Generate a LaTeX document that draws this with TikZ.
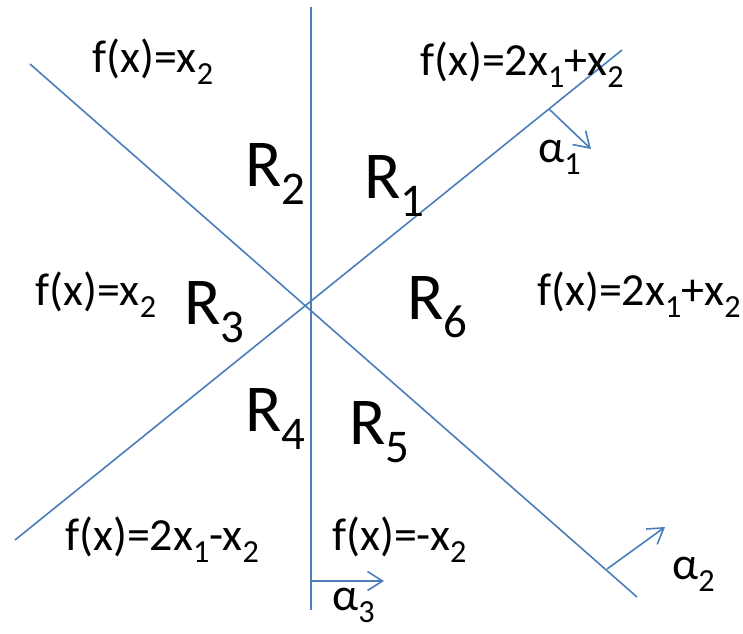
\documentclass[tikz,border=0pt]{standalone}
\usepackage{fontspec}
\setmainfont{Carlito}
\usepackage{graphicx}
\usetikzlibrary{arrows.meta}
\definecolor{lineblue}{RGB}{74,126,187}
\newcommand{\lowidx}[1]{\raisebox{-.27em}{\scalebox{.7}{#1}}}

\begin{document}
\begin{tikzpicture}[x=1pt, y=-1pt, >={Straight Barb[length=15pt,width=19pt]},
  sep/.style={draw=lineblue, line width=1.6pt},
  axis/.style={draw=lineblue, line width=2.2pt},
  dir/.style={draw=lineblue, line width=1.6pt, ->},
  fn/.style={anchor=base west, inner sep=0pt, font=\fontsize{46}{50}\selectfont},
  reg/.style={anchor=base west, inner sep=0pt, font=\fontsize{67}{70}\selectfont}]
\useasboundingbox (0,0) rectangle (743,633);
% separating lines
\coordinate (vtop) at (311,7);
\coordinate (vbot) at (311,610);
\coordinate (atop) at (30,64);
\coordinate (abot) at (637,597);
\coordinate (bbot) at (15,540);
\coordinate (btop) at (622,50);
\draw[axis] (vtop) -- (vbot);
\draw[sep] (atop) -- (abot);
\draw[sep] (bbot) -- (btop);
% normal directions
\coordinate (n1s) at (549,109);
\coordinate (n1e) at (591,149);
\coordinate (n2s) at (607,569);
\coordinate (n2e) at (665,527);
\coordinate (n3s) at (311,581);
\coordinate (n3e) at (384,581);
\draw[dir] (n1s) -- (n1e);
\draw[dir] (n2s) -- (n2e);
\draw[dir] (n3s) -- (n3e);
\node[fn] (al1) at (538,162) {α\lowidx{1}};
\node[fn] (al2) at (672,579) {α\lowidx{2}};
\node[fn] (al3) at (332,610) {α\lowidx{3}};
% regions
\foreach \n/\x/\y in {1/364/198,2/245/186,3/184/324,4/245/431,5/349/444,6/407/319}
  \node[reg] (R\n) at (\x,\y) {R\lowidx{\n}};
% function values
\node[fn] (fTL) at (92,72) {f(x)=x\lowidx{2}};
\node[fn] (fTR) at (420,75) {f(x)=2x\lowidx{1}+x\lowidx{2}};
\node[fn] (fL) at (35,305) {f(x)=x\lowidx{2}};
\node[fn] (fR) at (537,305) {f(x)=2x\lowidx{1}+x\lowidx{2}};
\node[fn] (fBL) at (65,550) {f(x)=2x\lowidx{1}-x\lowidx{2}};
\node[fn] (fB) at (332,550) {f(x)=-x\lowidx{2}};
\end{tikzpicture}
\end{document}
